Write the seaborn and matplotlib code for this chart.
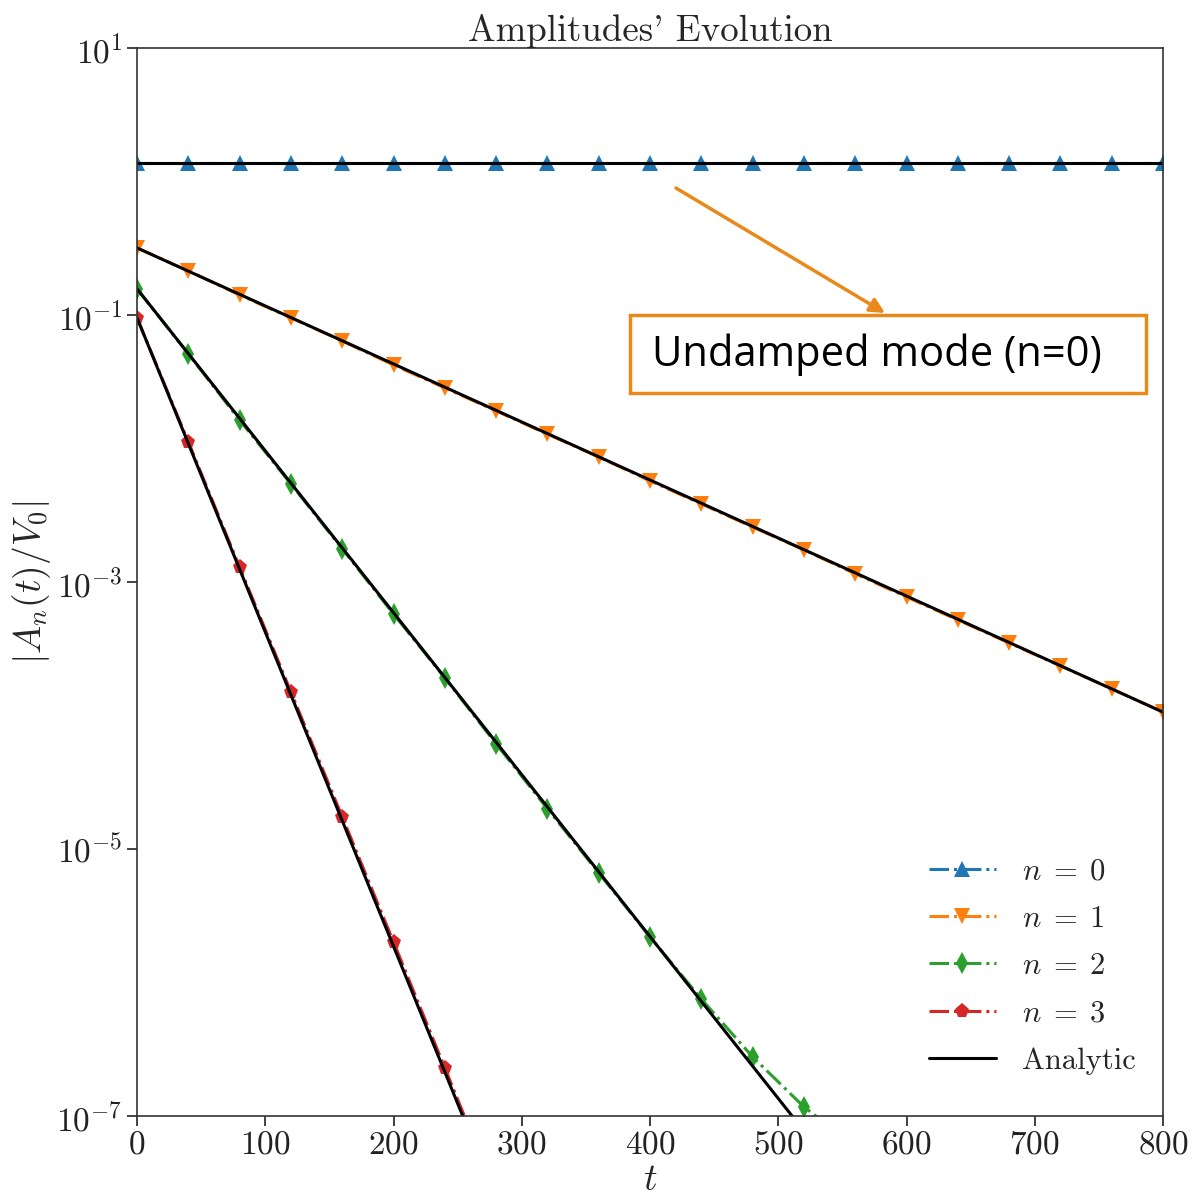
import numpy as np
import pandas as pd
import matplotlib
matplotlib.use("Agg")
import matplotlib.pyplot as plt
import seaborn as sns
from matplotlib.patches import Rectangle
from matplotlib.lines import Line2D

# sampled times of the simulation
t_sim = [0, 40, 80, 120, 160, 200, 240, 280, 320, 360, 400,
         440, 480, 520, 560, 600, 640, 680, 720, 760, 800]

# |A_n(t)/V_0|
amp_n0 = [1.38, 1.38, 1.38, 1.38, 1.38, 1.38, 1.38, 1.38, 1.38, 1.38, 1.38,
          1.38, 1.38, 1.38, 1.38, 1.38, 1.38, 1.38, 1.38, 1.38, 1.38]
amp_n1 = [0.318, 0.214, 0.141, 0.0951, 0.0639, 0.0422, 0.0284, 0.0191, 0.0128,
          8.63e-3, 5.71e-3, 3.84e-3, 2.58e-3, 1.74e-3, 1.15e-3, 7.72e-4,
          5.19e-4, 3.49e-4, 2.35e-4, 1.58e-4, 1.06e-4]
t_n2 = [0, 40, 80, 120, 160, 200, 240, 280, 320, 360, 400, 440, 480, 520, 560]
amp_n2 = [0.157, 0.0511, 0.0163, 5.42e-3, 1.77e-3, 5.75e-4, 1.91e-4, 6.12e-5,
          2.00e-5, 6.61e-6, 2.19e-6, 7.52e-7, 2.77e-7, 1.17e-7, 5.9e-8]
t_n3 = [0, 40, 80, 120, 160, 200, 240, 280]
amp_n3 = [0.0951, 0.0112, 1.29e-3, 1.50e-4, 1.74e-5, 2.01e-6, 2.29e-7, 2.6e-8]

# analytic solution (straight lines on the log axis)
t_ana = [0, 800]
ana_n0 = [1.38, 1.38]
ana_n1 = [0.318, 1.06e-4]
ana_n2 = [0.157, 3.1e-11]
ana_n3 = [0.0951, 1.4e-20]

labels = [r"$n \;=\; 0$", r"$n \;=\; 1$", r"$n \;=\; 2$", r"$n \;=\; 3$"]
markers = ["^", "v", "d", "p"]

sns.set_style("ticks")
plt.rcParams["font.family"] = ["cmr10", "DejaVu Serif"]
plt.rcParams["mathtext.fontset"] = "cm"
plt.rcParams["axes.formatter.use_mathtext"] = True

colors = sns.color_palette("tab10", 4)

fig = plt.figure(figsize=(11.99, 11.97), dpi=100)
ax = fig.add_axes([0.1143, 0.0677, 0.8557, 0.8922])

series = [(t_sim, amp_n0), (t_sim, amp_n1), (t_n2, amp_n2), (t_n3, amp_n3)]
for (tt, aa), c, m in zip(series, colors, markers):
    sns.lineplot(x=tt, y=aa, ax=ax, color=c, marker=m, markersize=11,
                 markeredgewidth=0, linestyle="-.", linewidth=2.2)

for aa in [ana_n0, ana_n1, ana_n2, ana_n3]:
    sns.lineplot(x=t_ana, y=aa, ax=ax, color="black", linewidth=2.2)

ax.set_yscale("log")
ax.set_xlim(0, 800)
ax.set_ylim(1e-7, 1e1)
ax.set_yticks([1e1, 1e-1, 1e-3, 1e-5, 1e-7])
ax.yaxis.set_minor_locator(matplotlib.ticker.NullLocator())
ax.set_xticks([0, 100, 200, 300, 400, 500, 600, 700, 800])
ax.tick_params(labelsize=24, length=7, width=1.2, colors="#222222")
for sp in ax.spines.values():
    sp.set_color("#333333")
    sp.set_linewidth(1.2)

ax.set_title("Amplitudes' Evolution", fontsize=26.5, pad=4)
ax.set_xlabel("$t$", fontsize=27, labelpad=3)
ax.set_ylabel("$|A_n(t)/V_0|$", fontsize=27, labelpad=2)

handles = [Line2D([], [], color=c, marker=m, markersize=11, markeredgewidth=0,
                  linestyle="-.", linewidth=2.2) for c, m in zip(colors, markers)]
handles.append(Line2D([], [], color="black", linewidth=2.2))
ax.legend(handles, labels + ["Analytic"], loc="lower right", frameon=False,
          fontsize=22, handlelength=2.2, handletextpad=0.85, labelspacing=0.65,
          borderaxespad=0.5, bbox_to_anchor=(1.0, 0.013))

# annotation box with arrow
orange = "#E8891A"
fig.add_artist(Rectangle((0.5254, 0.6717), 0.4304, 0.0651, transform=fig.transFigure,
                         fill=True, facecolor="white", edgecolor=orange, linewidth=2.5))
fig.text(0.5438, 0.7035, "Undamped mode (n=0)", fontsize=30, family="Open Sans",
         ha="left", va="center", color="black")
ax.annotate("", xy=(0.7381, 0.7385), xytext=(0.5638, 0.8429),
            xycoords="figure fraction", textcoords="figure fraction",
            arrowprops=dict(arrowstyle="-|>", color=orange, lw=2.5,
                            mutation_scale=22, shrinkA=0, shrinkB=0))

fig.savefig("out.png", dpi=100)
